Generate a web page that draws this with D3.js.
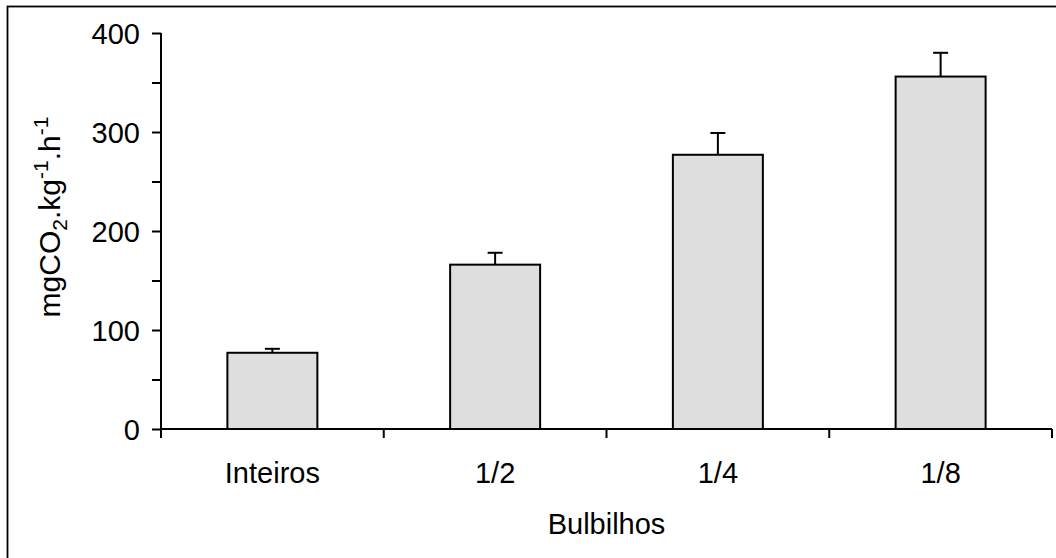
<!DOCTYPE html>
<html>
<head>
<meta charset="utf-8">
<script src="https://cdn.jsdelivr.net/npm/d3@7"></script>
<style>
  body { margin: 0; background: #fff; }
  text { font-family: "Liberation Sans", Arial, sans-serif; fill: #000; }
</style>
</head>
<body>
<svg id="chart" width="1056" height="558"></svg>
<script>
const categories = ["Inteiros", "1/2", "1/4", "1/8"];
const values = [77, 166, 277, 356];
const errors = [4, 12, 22, 24];
const yTicks = [0, 50, 100, 150, 200, 250, 300, 350, 400];

const svg = d3.select("#chart");

// outer frame (clipped by the window on right and bottom)
svg.append("rect")
  .attr("x", 7.5).attr("y", 6.5)
  .attr("width", 1060).attr("height", 560)
  .attr("fill", "none").attr("stroke", "#000").attr("stroke-width", 1.8);

const plotL = 161, plotR = 1052, plotT = 33, plotB = 429;

const x = d3.scaleBand().domain(categories).range([plotL, plotR]).padding(0);
const y = d3.scaleLinear().domain([0, 400]).range([plotB, plotT]);

const data = categories.map((c, i) => ({ cat: c, val: values[i], err: errors[i] }));

// y axis
const yAxis = svg.append("g")
  .attr("transform", `translate(${plotL},0)`)
  .call(d3.axisLeft(y).tickValues(yTicks)
    .tickFormat(d => d % 100 === 0 ? d : "")
    .tickSize(9).tickPadding(12));
yAxis.select(".domain").attr("d", `M0,${plotT}V${plotB}`).attr("stroke-width", 2);
yAxis.selectAll(".tick line").attr("stroke-width", 2);
yAxis.selectAll(".tick text").style("font-size", "29px").style("font-family", "Liberation Sans, Arial, sans-serif").attr("dy", "0.35em");

// x axis with ticks between categories
const xAxis = svg.append("g");
xAxis.append("line")
  .attr("x1", plotL).attr("x2", plotR)
  .attr("y1", plotB).attr("y2", plotB)
  .attr("stroke", "#000").attr("stroke-width", 2);
const bounds = categories.map(c => x(c)).concat([x(categories[categories.length - 1]) + x.bandwidth()]);
xAxis.selectAll("line.tk").data(bounds).join("line")
  .attr("class", "tk")
  .attr("x1", d => d).attr("x2", d => d)
  .attr("y1", plotB).attr("y2", plotB + 9)
  .attr("stroke", "#000").attr("stroke-width", 2);
xAxis.selectAll("text").data(categories).join("text")
  .attr("x", d => x(d) + x.bandwidth() / 2)
  .attr("y", 483)
  .attr("text-anchor", "middle")
  .style("font-size", "29px")
  .text(d => d);

// bars
const bw = x.bandwidth() * 0.404;
const bars = svg.append("g");
bars.selectAll("rect").data(data).join("rect")
  .attr("x", d => x(d.cat) + x.bandwidth() / 2 - bw / 2)
  .attr("y", d => y(d.val))
  .attr("width", bw)
  .attr("height", d => y(0) - y(d.val))
  .attr("fill", "#dedede")
  .attr("stroke", "#000").attr("stroke-width", 2);

// error bars (upper only)
const eb = svg.append("g").attr("stroke", "#000").attr("stroke-width", 2);
eb.selectAll("line.v").data(data).join("line")
  .attr("class", "v")
  .attr("x1", d => x(d.cat) + x.bandwidth() / 2)
  .attr("x2", d => x(d.cat) + x.bandwidth() / 2)
  .attr("y1", d => y(d.val))
  .attr("y2", d => y(d.val + d.err));
eb.selectAll("line.c").data(data).join("line")
  .attr("class", "c")
  .attr("x1", d => x(d.cat) + x.bandwidth() / 2 - 7.5)
  .attr("x2", d => x(d.cat) + x.bandwidth() / 2 + 7.5)
  .attr("y1", d => y(d.val + d.err))
  .attr("y2", d => y(d.val + d.err));

// axis titles
svg.append("text")
  .attr("x", (plotL + plotR) / 2)
  .attr("y", 534)
  .attr("text-anchor", "middle")
  .style("font-size", "29px")
  .text("Bulbilhos");

const yl = svg.append("text")
  .attr("transform", "translate(60,217) rotate(-90)")
  .attr("text-anchor", "middle")
  .style("font-size", "30px");
yl.append("tspan").text("mgCO");
yl.append("tspan").attr("dy", 7).style("font-size", "21px").text("2");
yl.append("tspan").attr("dy", -7).text(".kg");
yl.append("tspan").attr("dy", -12).style("font-size", "21px").text("-1");
yl.append("tspan").attr("dy", 12).text(".h");
yl.append("tspan").attr("dy", -12).style("font-size", "21px").text("-1");
</script>
</body>
</html>
